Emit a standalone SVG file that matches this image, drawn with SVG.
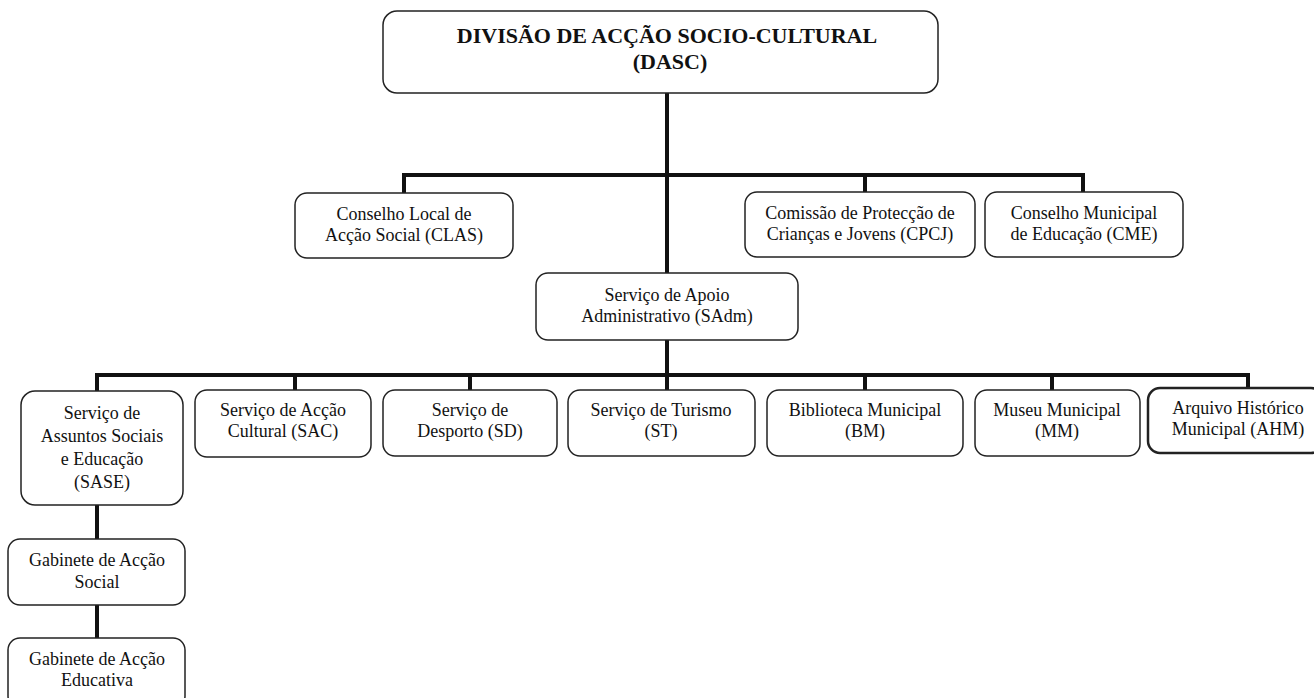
<svg xmlns="http://www.w3.org/2000/svg" width="1314" height="698" viewBox="0 0 1314 698">
<style>
.box{fill:#fff;stroke:#222;stroke-width:1.5}
.t{font-size:18px;fill:#111;text-anchor:middle}
.tb{font-size:22px;font-weight:bold;fill:#111;text-anchor:middle}
.c{stroke:#111;stroke-width:4;fill:none}
</style>
<rect width="1314" height="698" fill="#fff"/>
<g id="connectors">
<path class="c" d="M667,93 V273 M667,340 V375"/>
<path class="c" d="M404,193 V175 H1083 V192 M865,175 V192"/>
<path class="c" d="M97,391 V375 H1248 V389 M295,375 V390 M470,375 V390 M667,375 V390 M865,375 V390 M1052,375 V390"/>
<path class="c" d="M97,505 V539 M97,605 V638"/>
</g>
<g font-family="Liberation Serif, Times New Roman, serif">
<g id="dasc"><rect class="box" x="383" y="11" width="555" height="82" rx="14"/>
<text class="tb" x="667" y="43">DIVISÃO DE ACÇÃO SOCIO-CULTURAL</text>
<text class="tb" x="670" y="69">(DASC)</text></g>
<g id="clas"><rect class="box" x="295" y="193" width="218" height="65" rx="12"/>
<text class="t" x="404" y="220">Conselho Local de</text><text class="t" x="404" y="241">Acção Social (CLAS)</text></g>
<g id="cpcj"><rect class="box" x="745" y="192" width="230" height="65" rx="12"/>
<text class="t" x="860" y="219">Comissão de Protecção de</text><text class="t" x="860" y="240">Crianças e Jovens (CPCJ)</text></g>
<g id="cme"><rect class="box" x="985" y="192" width="198" height="65" rx="12"/>
<text class="t" x="1084" y="219">Conselho Municipal</text><text class="t" x="1084" y="240">de Educação (CME)</text></g>
<g id="sadm"><rect class="box" x="536" y="273" width="262" height="67" rx="12"/>
<text class="t" x="667" y="301">Serviço de Apoio</text><text class="t" x="667" y="322">Administrativo (SAdm)</text></g>
<g id="sase"><rect class="box" x="21" y="391" width="162" height="114" rx="14"/>
<text class="t" x="102" y="419">Serviço de</text><text class="t" x="102" y="442">Assuntos Sociais</text><text class="t" x="102" y="465">e Educação</text><text class="t" x="102" y="488">(SASE)</text></g>
<g id="sac"><rect class="box" x="195" y="390" width="176" height="67" rx="12"/>
<text class="t" x="283" y="416">Serviço de Acção</text><text class="t" x="283" y="437">Cultural (SAC)</text></g>
<g id="sd"><rect class="box" x="383" y="390" width="174" height="66" rx="12"/>
<text class="t" x="470" y="416">Serviço de</text><text class="t" x="470" y="437">Desporto (SD)</text></g>
<g id="st"><rect class="box" x="568" y="390" width="187" height="66" rx="12"/>
<text class="t" x="661" y="416">Serviço de Turismo</text><text class="t" x="661" y="437">(ST)</text></g>
<g id="bm"><rect class="box" x="767" y="390" width="196" height="66" rx="12"/>
<text class="t" x="865" y="416">Biblioteca Municipal</text><text class="t" x="865" y="437">(BM)</text></g>
<g id="mm"><rect class="box" x="975" y="390" width="165" height="66" rx="12"/>
<text class="t" x="1057" y="416">Museu Municipal</text><text class="t" x="1057" y="437">(MM)</text></g>
<g id="ahm"><rect class="box" x="1148" y="388" width="175" height="65" rx="12" style="stroke-width:2.5"/>
<text class="t" x="1238" y="414">Arquivo Histórico</text><text class="t" x="1238" y="435">Municipal (AHM)</text></g>
<g id="gas"><rect class="box" x="8" y="539" width="177" height="66" rx="12"/>
<text class="t" x="97" y="566">Gabinete de Acção</text><text class="t" x="97" y="588">Social</text></g>
<g id="gae"><rect class="box" x="8" y="638" width="177" height="70" rx="12"/>
<text class="t" x="97" y="665">Gabinete de Acção</text><text class="t" x="97" y="686">Educativa</text></g>
</g>
</svg>
